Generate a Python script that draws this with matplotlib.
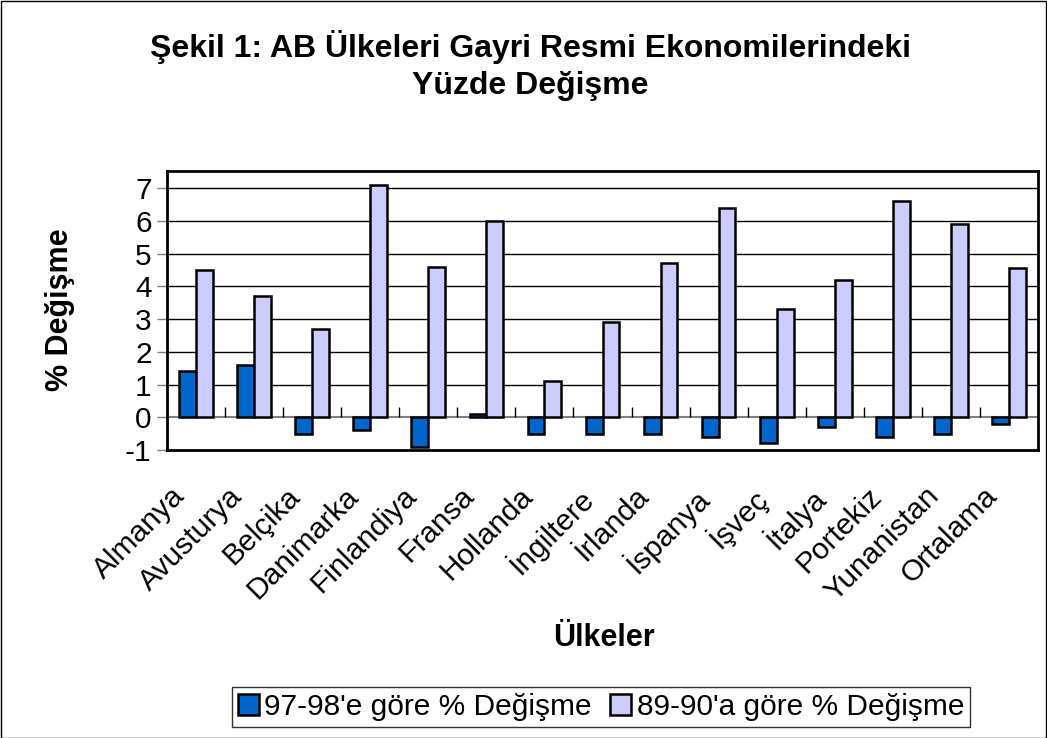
import matplotlib
matplotlib.use("Agg")
import matplotlib.pyplot as plt
import numpy as np
from matplotlib.patches import Rectangle
from matplotlib.transforms import ScaledTranslation

plt.rcParams['font.family'] = ['Liberation Sans', 'DejaVu Sans']

countries = ["Almanya", "Avusturya", "Belçika", "Danimarka", "Finlandiya", "Fransa",
             "Hollanda", "İngiltere", "İrlanda", "İspanya", "İşveç", "İtalya",
             "Portekiz", "Yunanistan", "Ortalama"]
change_97_98 = [1.4, 1.6, -0.5, -0.4, -0.9, 0.1, -0.5, -0.5, -0.5, -0.6, -0.8, -0.3, -0.6, -0.5, -0.2]
change_89_90 = [4.5, 3.7, 2.7, 7.1, 4.6, 6.0, 1.1, 2.9, 4.7, 6.4, 3.3, 4.2, 6.6, 5.9, 4.55]
series_names = ["97-98'e göre % Değişme", "89-90'a göre % Değişme"]
yticks = [-1, 0, 1, 2, 3, 4, 5, 6, 7]

W, H = 1047, 738
fig = plt.figure(figsize=(W / 100, H / 100), dpi=100)
fig.patch.set_facecolor('white')
fig.add_artist(Rectangle((0.5 / W, 0.5 / H), 1 - 1.5 / W, 1 - 1.5 / H, transform=fig.transFigure,
                         fill=False, edgecolor='black', linewidth=1.0))

ax = fig.add_axes([167 / W, 1 - 450 / H, (1038 - 167) / W, (450 - 171) / H])
x = np.arange(len(countries))
bw = 0.29
b1 = ax.bar(x - bw / 2, change_97_98, bw, color='#0066CC', edgecolor='black', linewidth=1.8, zorder=3,
            label=series_names[0])
b2 = ax.bar(x + bw / 2, change_89_90, bw, color='#CCCCFF', edgecolor='black', linewidth=1.8, zorder=3,
            label=series_names[1])

ax.set_xlim(-0.5, len(countries) - 0.5)
ax.set_ylim(-1, 7.52)
ax.set_yticks(yticks)
ax.set_yticklabels([str(v) for v in yticks], fontsize=21.5)
ax.tick_params(axis='y', direction='out', length=7, width=1, color='#808080', pad=4)
for v in yticks[2:]:
    ax.axhline(v, color='black', linewidth=1.0, zorder=1)
ax.axhline(0, color='#808080', linewidth=1.5, zorder=2)
# category tick marks on the zero axis
ax.vlines(x[:-1] + 0.5, 0, 0.3, color='black', linewidth=1.0, zorder=2)

ax.set_xticks(x)
ax.set_xticklabels(countries, rotation=45, ha='right', rotation_mode='anchor', fontsize=21.5)
ax.tick_params(axis='x', length=0, pad=10)
off = ScaledTranslation(-26 / 100, -18 / 100, fig.dpi_scale_trans)
for lab in ax.get_xticklabels():
    lab.set_transform(lab.get_transform() + off)
for s in ax.spines.values():
    s.set_linewidth(2.0)
    s.set_color('black')

fig.text(530 / W, 1 - 47 / H, "Şekil 1: AB Ülkeleri Gayri Resmi Ekonomilerindeki", ha='center', va='center',
         fontsize=23, fontweight='bold')
fig.text(530 / W, 1 - 86 / H, "Yüzde Değişme", ha='center', va='center', fontsize=23, fontweight='bold')
fig.text(60 / W, 1 - 310 / H, "% Değişme", rotation=90, ha='center', va='center', fontsize=22, fontweight='bold')
fig.text(604 / W, 1 - 638 / H, "Ülkeler", ha='center', va='center', fontsize=22, fontweight='bold')

leg = fig.legend(handles=[b1, b2], loc='center', bbox_to_anchor=(601 / W, 1 - 707 / H), ncol=2,
                 fontsize=21.5, frameon=True, fancybox=False, edgecolor='black', handlelength=0.7,
                 handleheight=0.7, handletextpad=0.2, columnspacing=0.6, borderpad=0.2, borderaxespad=0)
leg.get_frame().set_linewidth(1.0)

fig.savefig("out.png", dpi=100)
